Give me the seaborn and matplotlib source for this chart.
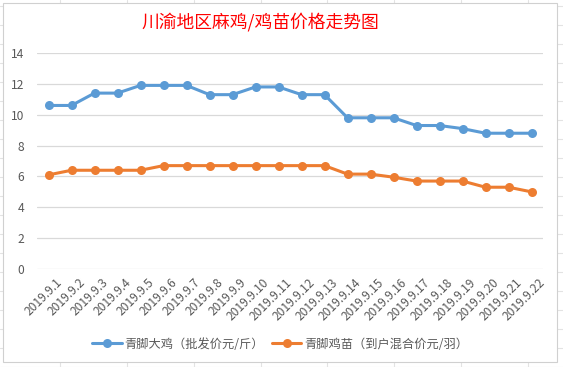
import pandas as pd
import matplotlib.pyplot as plt
import matplotlib.patches as mpatches
import matplotlib.transforms as mtransforms
from matplotlib.lines import Line2D
import seaborn as sns

# data
dates = [f"2019.9.{d}" for d in range(1, 23)]
big_chicken = [10.6, 10.6, 11.4, 11.4, 11.9, 11.9, 11.9, 11.3, 11.3, 11.8, 11.8,
               11.3, 11.3, 9.8, 9.8, 9.8, 9.3, 9.3, 9.1, 8.8, 8.8, 8.8]
chick = [6.1, 6.4, 6.4, 6.4, 6.4, 6.7, 6.7, 6.7, 6.7, 6.7, 6.7,
         6.7, 6.7, 6.15, 6.15, 5.95, 5.7, 5.7, 5.7, 5.3, 5.3, 5.0]
series_names = ["青脚大鸡（批发价元/斤）", "青脚鸡苗（到户混合价元/羽）"]
colors = ["#5B9BD5", "#ED7D31"]
yticks = [0, 2, 4, 6, 8, 10, 12, 14]

df = pd.DataFrame({
    "date": dates * 2,
    "price": big_chicken + chick,
    "series": [series_names[0]] * len(dates) + [series_names[1]] * len(dates),
})

sns.set_style("white")
plt.rcParams["font.family"] = ["Noto Sans CJK SC", "DejaVu Sans"]

fig = plt.figure(figsize=(5.63, 3.67), dpi=100)
W, H = 563, 367

# faint spreadsheet cells behind the chart
for x in [60, 127, 194, 261, 327, 394, 461, 528]:
    fig.add_artist(Line2D([x / W, x / W], [0, 1], color="#E3E3E3", lw=0.8, zorder=-3))
for y in range(0, H, 19):
    fig.add_artist(Line2D([0, 1], [y / H, y / H], color="#E3E3E3", lw=0.8, zorder=-3))
fig.add_artist(mpatches.Rectangle((3 / W, 5 / H), 554 / W, 359 / H, zorder=-2,
                                  facecolor="white", edgecolor="#D0D0D0", lw=0.8))

ax = fig.add_axes([37 / W, 1 - 269 / H, (543 - 37) / W, (269 - 53) / H])
ax.set_facecolor("none")

sns.lineplot(data=df, x="date", y="price", hue="series", palette=colors,
             marker="o", markersize=6.5, markeredgewidth=0, linewidth=2.2,
             ax=ax, legend=False, sort=False)

ax.set_xlim(-0.5, len(dates) - 0.5)
ax.set_ylim(0, 14)
ax.set_yticks(yticks)
ax.grid(axis="y", color="#D9D9D9", lw=0.9)
ax.set_axisbelow(True)
for s in ax.spines.values():
    s.set_visible(False)
ax.tick_params(axis="both", length=0, labelsize=8.7, colors="#595959")
ax.tick_params(axis="y", pad=9)
ax.tick_params(axis="x", pad=5)
shift = mtransforms.ScaledTranslation(5 / 72, 0, fig.dpi_scale_trans)
for lbl in ax.get_xticklabels():
    lbl.set_rotation(45)
    lbl.set_ha("right")
    lbl.set_rotation_mode("anchor")
    lbl.set_transform(lbl.get_transform() + shift)
ax.set_xlabel("")
ax.set_ylabel("")

fig.text(260 / W, 1 - 22 / H, "川渝地区麻鸡/鸡苗价格走势图", color="#FF0000",
         fontsize=12.8, fontweight="medium", ha="center", va="center")

handles = [Line2D([0], [0], color=c, lw=2.2, marker="o", markersize=6.5,
                  markeredgewidth=0) for c in colors]
fig.legend(handles, series_names, loc="center", bbox_to_anchor=(280 / W, 1 - 344 / H),
           ncol=2, frameon=False, fontsize=8.8, handlelength=2.4,
           columnspacing=0.7, handletextpad=0.2, labelcolor="#595959")

fig.savefig("out.png", dpi=100)
